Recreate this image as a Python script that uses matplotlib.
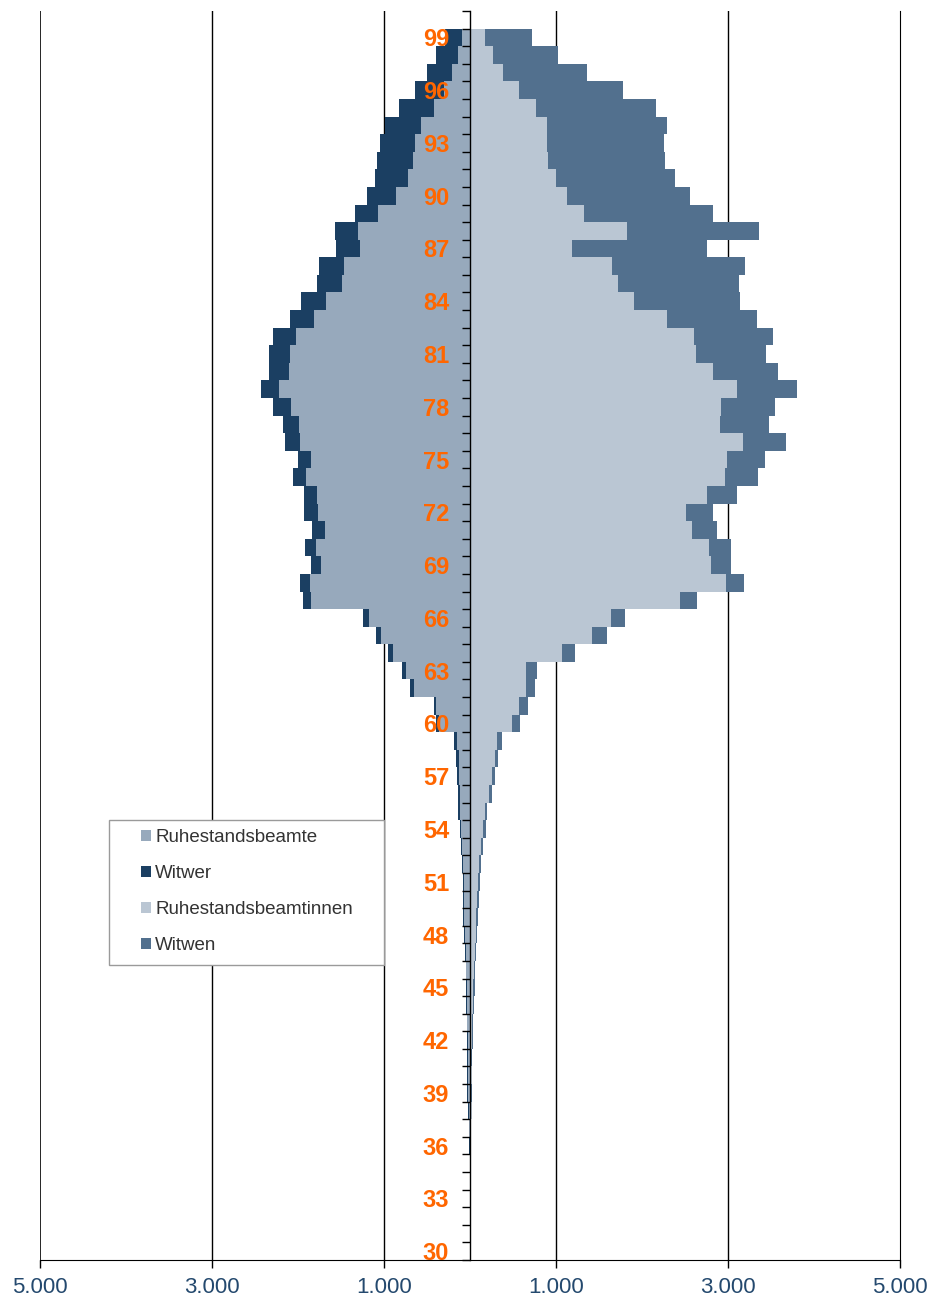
import matplotlib
matplotlib.use("Agg")
import matplotlib.pyplot as plt
from matplotlib.patches import Patch, Rectangle
from matplotlib.ticker import FuncFormatter, MultipleLocator
import numpy as np

plt.rcParams['font.family'] = ['Liberation Sans', 'DejaVu Sans']

# ages 30 .. 99
ages = list(range(30, 100))

# men: retired civil servants and widowers (left side)
beamte = [0, 0, 0, 2, 2, 3, 4, 8, 15, 25,
          23, 23, 27, 31, 35, 39, 43, 50, 58, 66,
          70, 74, 82, 89, 101, 116, 116, 124, 132, 147,
          360, 391, 655, 744, 895, 1039, 1174, 1853, 1862, 1728,
          1789, 1690, 1772, 1784, 1905, 1845, 1974, 1987, 2078, 2216,
          2103, 2091, 2026, 1815, 1677, 1491, 1466, 1276, 1297, 1073,
          862, 724, 659, 634, 573, 418, 300, 210, 142, 92]
witwer = [0, 0, 0, 0, 1, 1, 2, 3, 5, 5,
          8, 8, 8, 8, 8, 8, 7, 8, 12, 12,
          11, 11, 12, 20, 19, 20, 24, 23, 27, 35,
          39, 28, 47, 47, 55, 58, 70, 84, 112, 125,
          133, 146, 155, 151, 151, 155, 177, 190, 215, 219,
          238, 250, 263, 276, 284, 285, 293, 280, 272, 268,
          332, 375, 419, 413, 414, 411, 336, 286, 249, 200]

# women: retired civil servants and widows (right side)
beamtinnen = [0, 0, 0, 2, 3, 4, 5, 8, 20, 16,
              19, 16, 19, 23, 31, 39, 47, 54, 66, 74,
              85, 97, 110, 124, 155, 171, 217, 252, 287, 310,
              492, 574, 647, 647, 1066, 1422, 1636, 2444, 2978, 2802,
              2780, 2582, 2513, 2759, 2966, 2991, 3177, 2909, 2918, 3108,
              2828, 2629, 2603, 2289, 1905, 1720, 1651, 1185, 1823, 1323,
              1125, 996, 905, 892, 892, 767, 566, 382, 265, 170]
witwen = [0, 0, 0, 1, 1, 1, 2, 3, 7, 6,
          8, 11, 12, 16, 16, 19, 15, 20, 19, 19,
          20, 15, 22, 31, 35, 31, 43, 39, 42, 66,
          93, 104, 113, 136, 159, 175, 170, 198, 207, 228,
          250, 289, 315, 344, 383, 440, 500, 569, 629, 698,
          754, 815, 923, 1052, 1237, 1409, 1547, 1574, 1539, 1505,
          1435, 1388, 1362, 1362, 1397, 1397, 1210, 984, 755, 556]

labels = ["Ruhestandsbeamte", "Witwer", "Ruhestandsbeamtinnen", "Witwen"]
colors = ["#97a9bc", "#1b3f62", "#bac6d3", "#52708e"]

W, H = 933, 1301
fig = plt.figure(figsize=(W / 100, H / 100), dpi=100)
ax = fig.add_axes([40 / W, 41 / H, 860 / W, 1249 / H])

b = np.array(beamte)
bi = np.array(beamtinnen)
ax.barh(ages, -b, height=1.0, color=colors[0], linewidth=0, zorder=1)
ax.barh(ages, -np.array(witwer), left=-b, height=1.0, color=colors[1], linewidth=0, zorder=1)
ax.barh(ages, bi, height=1.0, color=colors[2], linewidth=0, zorder=1)
ax.barh(ages, np.array(witwen), left=bi, height=1.0, color=colors[3], linewidth=0, zorder=1)

ax.set_xlim(-5000, 5000)
ax.set_ylim(29.5, 100.5)

# vertical grid lines
for gx in [-3000, -1000, 1000, 3000]:
    ax.axvline(gx, color="black", lw=1, zorder=0)

# frame: left/right edges, bottom axis, no top
ax.spines['top'].set_visible(False)
ax.spines['right'].set_color("black")
ax.spines['bottom'].set_color("black")
ax.axvline(-5000, color="black", lw=1.2, zorder=0)
ax.spines['left'].set_position(('data', 0))
ax.spines['left'].set_zorder(3)
ax.spines['left'].set_linewidth(1)

# x axis
ax.set_xticks([-5000, -3000, -1000, 1000, 3000, 5000])
ax.xaxis.set_major_formatter(FuncFormatter(lambda v, p: f"{abs(int(v)):,}".replace(",", ".")))
ax.tick_params(axis='x', direction='out', length=6, width=1, pad=6,
               labelsize=16, labelcolor="#24496e", color="black")

# age axis in the middle
ax.yaxis.set_ticks_position('left')
ax.set_yticks(list(range(30, 100, 3)))
ax.yaxis.set_minor_locator(MultipleLocator(1, offset=0.5))
ax.tick_params(axis='y', which='major', length=0, pad=15, labelsize=17,
               labelcolor="#ff6600")
ax.tick_params(axis='y', which='minor', length=6, width=1, direction='out',
               color="black", right=False, left=True)
for t in ax.get_yticklabels():
    t.set_fontweight('bold')

# legend on a white box that hides the grid lines
fig.patches.append(Rectangle((109 / W, 1 - 965 / H), 275 / W, 145 / H,
                             transform=fig.transFigure, facecolor='white',
                             edgecolor='#9a9a9a', lw=1, zorder=4))
handles = [Patch(facecolor=c, edgecolor='none') for c in colors]
leg = fig.legend(handles, labels, loc='upper left', bbox_to_anchor=(141 / W, 1 - 829 / H),
                 frameon=False, fontsize=13.5, labelcolor="#333333",
                 handlelength=0.55, handleheight=0.55, handletextpad=0.2,
                 labelspacing=1.02, borderpad=0, borderaxespad=0)
leg.set_zorder(6)

fig.savefig("out.png", dpi=100)
